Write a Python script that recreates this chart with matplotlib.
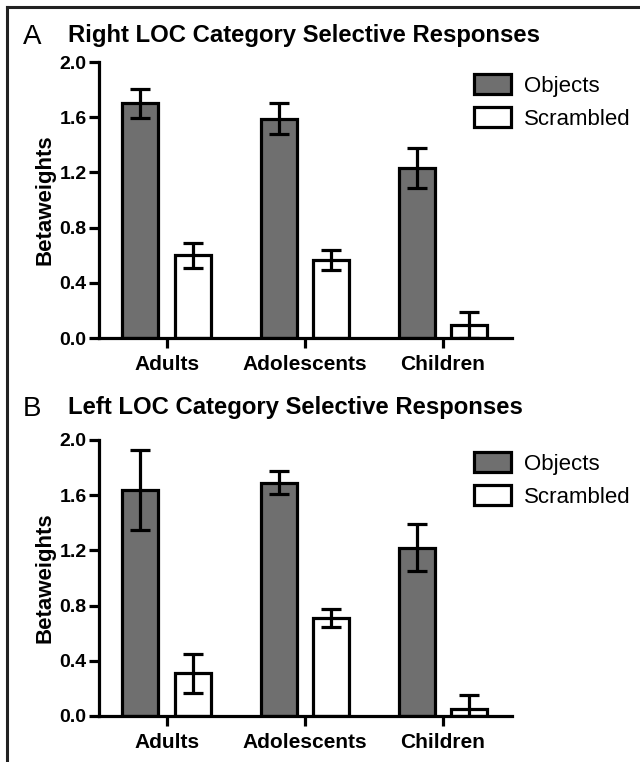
import numpy as np
import matplotlib
matplotlib.use('Agg')
import matplotlib.pyplot as plt
from matplotlib.lines import Line2D

plt.rcParams['font.family'] = ['Liberation Sans', 'DejaVu Sans']

groups = ['Adults', 'Adolescents', 'Children']
conditions = ['Objects', 'Scrambled']

# panel A: right LOC
right_objects = [1.70, 1.59, 1.23]
right_objects_err = [0.105, 0.11, 0.145]
right_scrambled = [0.60, 0.565, 0.095]
right_scrambled_err = [0.09, 0.07, 0.095]

# panel B: left LOC
left_objects = [1.64, 1.69, 1.22]
left_objects_err = [0.29, 0.085, 0.17]
left_scrambled = [0.31, 0.71, 0.05]
left_scrambled_err = [0.14, 0.063, 0.10]

yticks = [0.0, 0.4, 0.8, 1.2, 1.6, 2.0]

grey = '#6f6f6f'
lw = 2.3


def draw_panel(ax, obj, obj_err, scr, scr_err, letter, title, head_shift=0.0):
    x = np.arange(len(groups))
    w = 0.26
    off = 0.19
    ax.bar(x - off, obj, w, color=grey, edgecolor='black', linewidth=lw, zorder=2)
    ax.bar(x + off, scr, w, color='white', edgecolor='black', linewidth=lw, zorder=2)
    ax.errorbar(x - off, obj, yerr=obj_err, fmt='none', ecolor='black',
                elinewidth=lw, capsize=7.5, capthick=lw, zorder=3)
    ax.errorbar(x + off, scr, yerr=scr_err, fmt='none', ecolor='black',
                elinewidth=lw, capsize=7.5, capthick=lw, zorder=3)

    ax.set_xlim(-0.49, 2.5)
    ax.set_ylim(0, 2.0)
    ax.set_yticks(yticks)
    ax.set_yticklabels([f'{t:.1f}' for t in yticks], fontsize=14, fontweight='bold')
    ax.set_xticks(x)
    ax.set_xticklabels(groups, fontsize=15, fontweight='bold')
    ax.set_ylabel('Betaweights', fontsize=16, fontweight='bold', labelpad=2.5)

    for s in ['top', 'right']:
        ax.spines[s].set_visible(False)
    for s in ['left', 'bottom']:
        ax.spines[s].set_linewidth(lw)
        ax.spines[s].set_zorder(4)
    ax.tick_params(axis='both', width=lw, length=7, direction='out')
    ax.tick_params(axis='y', pad=2)
    ax.tick_params(axis='x', pad=5)

    handles = [plt.Rectangle((0, 0), 1, 1, facecolor=grey, edgecolor='black', linewidth=lw),
               plt.Rectangle((0, 0), 1, 1, facecolor='white', edgecolor='black', linewidth=lw)]
    ax.legend(handles, conditions, loc='upper left', bbox_to_anchor=(0.908, 0.955),
              frameon=False, fontsize=16, handlelength=1.65, handleheight=1.0,
              labelspacing=0.45, borderpad=0, borderaxespad=0, handletextpad=0.6)

    bb = ax.get_position()
    fig.text(0.036, bb.y1 + 0.033 + head_shift, letter, fontsize=20, ha='left', va='center')
    fig.text(0.106, bb.y1 + 0.035 + head_shift, title, fontsize=17.2, fontweight='bold',
             ha='left', va='center')


fig = plt.figure(figsize=(6.4, 7.62), dpi=100)
ax_a = fig.add_axes([0.1547, 0.5564, 0.6453, 0.3622])
ax_b = fig.add_axes([0.1547, 0.0604, 0.6453, 0.3622])

draw_panel(ax_a, right_objects, right_objects_err, right_scrambled, right_scrambled_err,
           'A', 'Right LOC Category Selective Responses')
draw_panel(ax_b, left_objects, left_objects_err, left_scrambled, left_scrambled_err,
           'B', 'Left LOC Category Selective Responses', head_shift=0.008)

# frame lines at top and left edge
fig.add_artist(Line2D([0.011, 1.0], [0.991, 0.991], color='#222222', linewidth=2.2,
                      transform=fig.transFigure))
fig.add_artist(Line2D([0.011, 0.011], [0.0, 0.991], color='#222222', linewidth=2.2,
                      transform=fig.transFigure))

fig.savefig('out.png', dpi=100)
